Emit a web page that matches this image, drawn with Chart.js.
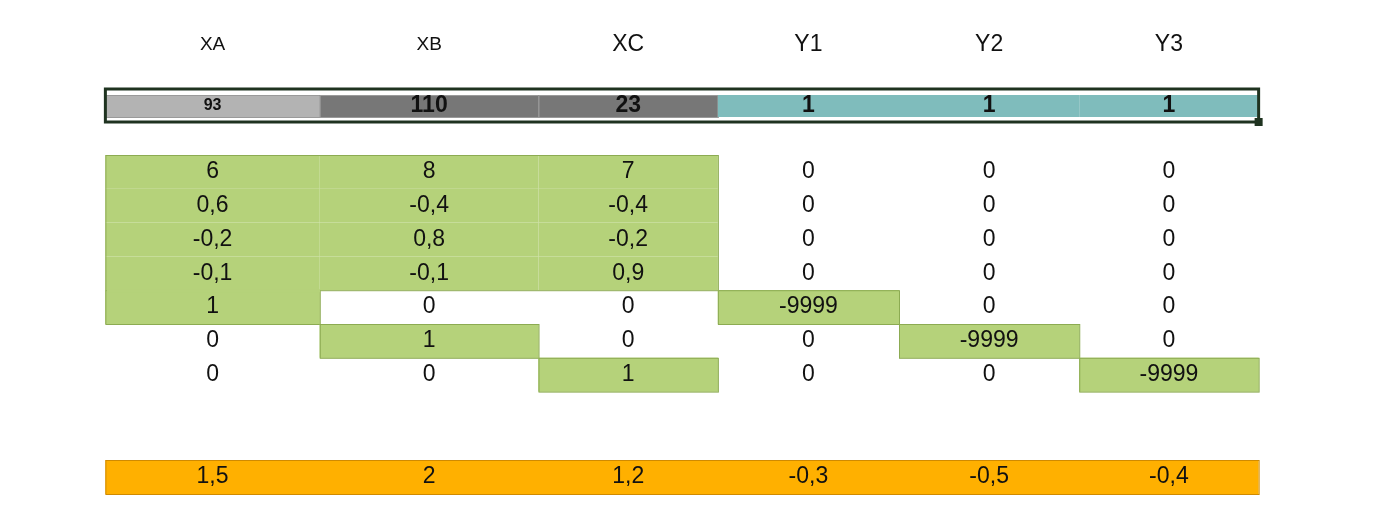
<!DOCTYPE html>
<html lang="en">
<head>
<meta charset="UTF-8">
<script src="https://cdn.jsdelivr.net/npm/chart.js"></script>
<style>
  html, body { margin: 0; padding: 0; background: #fff; overflow: hidden; }
</style>
</head>
<body>
<canvas id="sheet" width="1378" height="520"></canvas>
<script>
const headers = ['XA', 'XB', 'XC', 'Y1', 'Y2', 'Y3']
const topRow = ['93', '110', '23', '1', '1', '1']
const matrix = [
    ['6', '8', '7', '0', '0', '0'],
    ['0,6', '-0,4', '-0,4', '0', '0', '0'],
    ['-0,2', '0,8', '-0,2', '0', '0', '0'],
    ['-0,1', '-0,1', '0,9', '0', '0', '0'],
    ['1', '0', '0', '-9999', '0', '0'],
    ['0', '1', '0', '0', '-9999', '0'],
    ['0', '0', '1', '0', '0', '-9999']
]
const greenCells = [
    [0, 0], [0, 1], [0, 2], [1, 0], [1, 1], [1, 2], [2, 0], [2, 1], [2, 2], [3, 0], [3, 1], [3, 2],
    [4, 0], [4, 3], [5, 1], [5, 4], [6, 2], [6, 5]
]
const bottomRow = ['1,5', '2', '1,2', '-0,3', '-0,5', '-0,4']

// layout (pixel units on the x/y scales)
const colWidths = [245, 250, 205, 207, 206, 205]
const left = 22
const colEdges = [left]
colWidths.forEach(w => colEdges.push(colEdges[colEdges.length - 1] + w))
const matrixTop = 155, rowH = 33.8

const sheetPlugin = {
    id: 'sheet',
    afterDraw(chart) {
        const ctx = chart.ctx
        const xs = chart.scales.x, ys = chart.scales.y
        const X = v => xs.getPixelForValue(v), Y = v => ys.getPixelForValue(v)
        const cx = c => X((colEdges[c] + colEdges[c + 1]) / 2)
        const font = '"Liberation Sans Narrow", "Liberation Sans", Arial'
        const text = (t, x, y, f) => {
            ctx.font = f
            ctx.fillStyle = '#111'
            ctx.textAlign = 'center'
            ctx.textBaseline = 'middle'
            ctx.fillText(t, x, y)
        }
        const rect = (c0, c1, y0, y1, fill, stroke) => {
            const x0 = X(colEdges[c0]), w = X(colEdges[c1]) - x0
            const py = Y(y0), h = Y(y1) - py
            ctx.fillStyle = fill
            ctx.fillRect(x0, py, w, h)
            if (stroke) {
                ctx.strokeStyle = stroke
                ctx.lineWidth = 1
                ctx.strokeRect(x0 + 0.5, py + 0.5, w, h)
            }
        }
        ctx.save()
        headers.forEach((h, c) => text(h, cx(c), Y(45), (c < 2 ? '19px ' : '23px ') + font))

        // top row
        const topFill = ['#b3b3b3', '#777777', '#777777', '#7fbcbc', '#7fbcbc', '#7fbcbc']
        topRow.forEach((v, c) => {
            rect(c, c + 1, 95, 117, topFill[c], c < 3 ? '#9a9a9a' : null)
            text(v, cx(c), Y(106), (c === 0 ? 'bold 16px ' : 'bold 23px ') + font)
        })
        ctx.strokeStyle = '#1f3320'
        ctx.lineWidth = 3
        ctx.strokeRect(X(colEdges[0]), Y(89), X(colEdges[6]) - X(colEdges[0]), Y(122) - Y(89))
        ctx.fillStyle = '#1f3320'
        ctx.fillRect(X(colEdges[6]) - 4, Y(122) - 4, 8, 8)

        // green cells
        greenCells.forEach(([r, c]) => rect(c, c + 1, matrixTop + r * rowH, matrixTop + (r + 1) * rowH, '#b5d27a'))
        ctx.strokeStyle = '#8cab52'
        ctx.lineWidth = 1
        ctx.strokeRect(X(colEdges[0]) + 0.5, Y(matrixTop) + 0.5, X(colEdges[3]) - X(colEdges[0]), Y(matrixTop + 4 * rowH) - Y(matrixTop))
        greenCells.filter(([r]) => r >= 4).forEach(([r, c]) =>
            rect(c, c + 1, matrixTop + r * rowH, matrixTop + (r + 1) * rowH, '#b5d27a', '#8cab52'))
        // merge first column cell into the block above
        ctx.fillStyle = '#b5d27a'
        ctx.fillRect(X(colEdges[0]) + 1.5, Y(matrixTop + 4 * rowH) - 1, X(colEdges[1]) - X(colEdges[0]) - 1, 3)

        matrix.forEach((row, r) => row.forEach((v, c) =>
            text(v, cx(c), Y(matrixTop + (r + 0.5) * rowH), '23px ' + font)))

        // bottom row
        rect(0, 6, 460, 494, '#ffb000', '#d08a00')
        bottomRow.forEach((v, c) => text(v, cx(c), Y(477), '23px ' + font))
        ctx.restore()
    }
}

new Chart(document.getElementById('sheet'), {
    type: 'bar',
    data: { labels: [], datasets: [] },
    options: {
        responsive: false,
        animation: false,
        devicePixelRatio: 1,
        layout: { padding: 0 },
        plugins: { legend: { display: false }, tooltip: { enabled: false } },
        scales: {
            x: { type: 'linear', min: 0, max: 1378, display: false },
            y: { type: 'linear', min: 0, max: 520, reverse: true, display: false }
        }
    },
    plugins: [sheetPlugin]
})
</script>
</body>
</html>
